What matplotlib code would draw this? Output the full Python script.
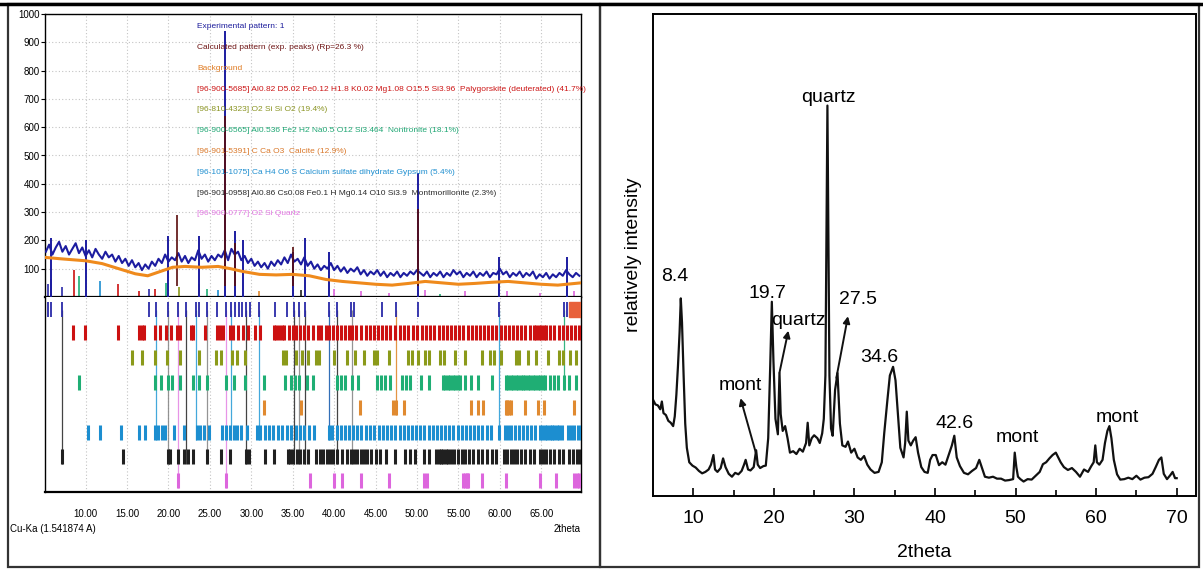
import numpy as np
import matplotlib.pyplot as plt
from matplotlib.patches import Rectangle
from matplotlib.lines import Line2D

# ---------------- left panel: phase identification ----------------
exp_start = 5.2
exp_step = 0.4
exp_counts = [160, 185, 150, 175, 195, 160, 180, 150, 170, 190, 155, 175, 145, 165, 140, 170,
              150, 135, 160, 140, 150, 125, 145, 120, 135, 110, 130, 105, 120, 95, 115, 100,
              125, 110, 135, 120, 150, 125, 140, 130, 155, 125, 145, 120, 140, 130, 165, 135,
              150, 125, 145, 130, 150, 140, 165, 130, 170, 150, 160, 130, 145, 120, 135, 110,
              125, 105, 120, 100, 125, 110, 130, 115, 140, 120, 150, 125, 135, 115, 140, 110,
              125, 100, 115, 95, 110, 100, 120, 95, 110, 90, 105, 85, 100, 90, 105, 80,
              95, 75, 90, 80, 95, 75, 90, 70, 85, 75, 90, 70, 85, 75, 90, 80,
              95, 85, 75, 90, 70, 85, 75, 90, 70, 85, 75, 95, 80, 90, 70, 85,
              75, 90, 70, 85, 75, 90, 70, 85, 80, 100, 80, 90, 70, 85, 75, 90,
              70, 85, 75, 90, 65, 80, 70, 85, 65, 80, 70, 85, 75, 95, 80, 70,
              85, 75]

bg_2theta = [5.1, 7, 10, 12, 14, 16, 17.5, 19, 20.5, 22, 24, 26, 27.5, 29, 31, 33, 35, 37,
             39, 41, 43, 45, 47, 49, 51, 53, 55, 57, 59, 61, 63, 65, 67, 69.8]
bg_counts = [140, 135, 128, 118, 100, 82, 75, 90, 105, 108, 105, 108, 100, 90, 80, 78, 80, 75,
             62, 55, 50, 45, 42, 48, 55, 50, 45, 48, 52, 55, 50, 45, 42, 50]

exp_peak_pos = [5.85, 10.0, 19.9, 23.7, 26.85, 28.0, 29.0, 35.05, 36.5, 39.4, 50.1, 59.9, 68.1]
exp_peak_h = [208, 200, 214, 214, 940, 232, 200, 160, 208, 160, 438, 143, 143]
calc_peak_pos = [21.05, 26.85, 28.0, 35.05, 50.1]
calc_peak_h = [290, 640, 190, 175, 310]

stick_pos = [5.5, 5.85, 7.2, 8.6, 9.2, 11.7, 13.9, 16.4, 17.7, 18.4, 19.7, 21.3, 23.7, 24.7,
             26.0, 30.9, 36.0, 40.0, 43.3, 46.6, 50.95, 52.8, 55.8, 60.9, 64.9, 69.0]
stick_h = [45, 65, 35, 95, 75, 55, 45, 20, 30, 30, 50, 35, 45, 30, 25, 20, 25, 30, 20, 15,
           25, 10, 20, 20, 15, 20]
stick_phase = [0, 0, 0, 1, 3, 5, 1, 1, 0, 1, 3, 2, 2, 3, 5, 4, 6, 7, 7, 7, 7, 3, 7, 7, 7, 7]

row_exp = [5.5, 5.85, 7.1, 17.7, 18.5, 19.9, 21.1, 22.1, 23.3, 23.7, 24.7, 25.9, 26.9, 27.5,
           28.0, 28.5, 28.9, 29.4, 29.9, 30.9, 32.9, 34.3, 35.1, 35.7, 36.5, 39.4, 40.3, 42.0,
           42.4, 45.8, 47.5, 50.1, 59.9, 67.7, 68.1]
row_paly = [8.5, 9.9, 13.9, 16.4, 16.8, 17.1, 18.4, 19.0, 19.7, 20.3, 21.0, 21.4, 22.7, 23.0,
            24.4, 25.9, 26.2, 26.6, 27.4, 27.8, 28.4, 29.0, 29.6, 30.4, 31.0, 32.7, 33.0, 33.3,
            33.7, 34.0, 34.5, 35.0, 35.4, 35.9, 36.4, 36.9, 37.5, 38.0, 38.4, 39.0, 39.4, 39.9,
            40.3, 40.8, 41.3, 41.8, 42.2, 42.7, 43.3, 43.8, 44.3, 44.8, 45.3, 45.8, 46.3, 46.8,
            47.3, 47.9, 48.4, 48.9, 49.5, 50.0, 50.6, 51.1, 51.6, 52.1, 52.6, 53.1, 53.6, 54.1,
            54.6, 55.1, 55.6, 56.1, 56.6, 57.1, 57.6, 58.1, 58.6, 59.1, 59.6, 60.1, 60.6, 61.1,
            61.6, 62.1, 62.6, 63.1, 63.6, 64.1, 64.4, 64.7, 65.0, 65.3, 65.6, 66.1, 66.6, 67.1,
            67.6, 68.1, 68.6, 69.1, 69.6]
row_sio2 = [15.6, 16.8, 18.4, 19.8, 21.4, 23.7, 25.8, 26.4, 27.7, 28.3, 29.3, 33.8, 34.2, 35.4,
            36.1, 36.8, 37.8, 38.2, 40.0, 41.6, 42.5, 43.6, 44.8, 45.2, 46.6, 48.9, 49.4, 50.1,
            51.0, 51.4, 52.8, 53.3, 54.6, 55.8, 57.9, 58.8, 59.3, 60.2, 61.9, 62.3, 63.4, 64.4,
            65.8, 67.2, 67.6, 68.5, 69.2]
row_nontr = [9.2, 18.4, 19.1, 20.0, 20.4, 21.4, 23.0, 23.7, 24.7, 27.0, 27.9, 29.3, 31.5, 34.1,
             34.8, 35.3, 35.7, 36.7, 37.4, 40.4, 40.8, 41.3, 42.2, 42.9, 45.2, 45.7, 46.1, 46.8,
             48.2, 48.7, 49.1, 50.5, 51.4, 53.1, 53.4, 53.7, 54.0, 54.3, 54.6, 54.9, 55.2, 55.8,
             56.5, 57.4, 59.1, 60.7, 61.0, 61.3, 61.6, 61.9, 62.2, 62.5, 62.8, 63.1, 63.4, 63.7,
             64.0, 64.3, 64.6, 64.9, 65.2, 65.5, 66.0, 66.5, 67.0, 67.7, 68.4, 69.2]
row_calcite = [31.5, 36.0, 43.1, 47.1, 47.5, 48.4, 56.5, 57.4, 58.0, 60.7, 60.9, 61.1, 61.3,
               63.0, 64.6, 65.3, 69.0]
row_gyps = [10.3, 11.7, 14.3, 16.4, 17.2, 18.4, 18.7, 19.2, 19.6, 20.7, 21.9, 23.4, 23.8, 24.3,
            24.9, 26.5, 26.9, 27.4, 27.9, 28.3, 28.8, 29.5, 30.7, 31.1, 31.6, 32.1, 32.6, 33.2,
            33.7, 34.3, 34.8, 35.4, 35.9, 36.4, 37.0, 37.6, 39.4, 39.8, 40.3, 40.8, 41.3, 41.8,
            42.3, 42.8, 43.3, 43.8, 44.3, 44.8, 45.4, 45.9, 46.4, 46.9, 47.4, 47.9, 48.4, 48.9,
            49.4, 49.9, 50.4, 50.9, 51.4, 51.9, 52.4, 52.9, 53.4, 53.9, 54.4, 54.9, 55.4, 55.9,
            56.4, 56.9, 57.4, 57.9, 58.4, 58.9, 59.9, 60.6, 61.0, 61.4, 61.8, 62.3, 62.8, 63.3,
            63.8, 64.3, 64.8, 65.1, 65.4, 65.7, 66.0, 66.3, 66.6, 66.9, 67.2, 67.5, 68.2, 68.6,
            69.0, 69.4, 69.8]
row_mont = [7.2, 14.5, 20.0, 20.2, 21.2, 21.9, 22.4, 23.0, 24.6, 26.4, 27.4, 29.4, 29.7, 31.6,
            32.8, 34.4, 34.7, 35.0, 35.5, 35.9, 36.4, 36.9, 37.8, 38.3, 38.7, 39.1, 39.5, 39.9,
            40.3, 41.0, 41.5, 42.0, 42.4, 42.8, 43.2, 43.6, 44.0, 44.4, 45.0, 45.5, 46.3, 47.4,
            48.6, 49.1, 49.8, 50.9, 51.4, 52.3, 52.6, 52.9, 53.2, 53.5, 53.8, 54.1, 54.5, 55.0,
            55.4, 55.8, 56.3, 56.8, 57.4, 57.9, 58.5, 59.0, 59.6, 60.5, 60.9, 61.3, 61.7, 62.1,
            62.6, 63.1, 63.6, 64.1, 64.8, 65.2, 65.6, 66.1, 66.6, 67.1, 67.6, 68.3, 68.8, 69.3,
            69.7]
row_quartz = [21.2, 26.9, 37.1, 40.0, 40.9, 43.3, 46.6, 50.9, 51.2, 55.6, 55.8, 56.0, 56.2,
              57.9, 60.7, 64.9, 66.8, 69.0, 69.3, 69.6]
exp_block = (68.4, 69.8)

link_pos = [7.1, 18.5, 19.9, 21.1, 22.1, 23.3, 24.7, 26.9, 27.5, 29.4, 30.9, 35.1, 35.7, 36.5,
            39.4, 40.3, 42.2, 47.5, 59.9, 67.7]
link_row = [6, 5, 6, 7, 6, 5, 6, 7, 5, 6, 5, 6, 6, 6, 5, 6, 6, 4, 5, 3]

legend_lines = [
    "Experimental pattern: 1",
    "Calculated pattern (exp. peaks) (Rp=26.3 %)",
    "Background",
    "[96-900-5685] Al0.82 D5.02 Fe0.12 H1.8 K0.02 Mg1.08 O15.5 Si3.96  Palygorskite (deuterated) (41.7%)",
    "[96-810-4323] O2 Si Si O2 (19.4%)",
    "[96-900-6565] Al0.536 Fe2 H2 Na0.5 O12 Si3.464  Nontronite (18.1%)",
    "[96-901-5391] C Ca O3  Calcite (12.9%)",
    "[96-101-1075] Ca H4 O6 S Calcium sulfate dihydrate Gypsum (5.4%)",
    "[96-901-0958] Al0.86 Cs0.08 Fe0.1 H Mg0.14 O10 Si3.9  Montmorillonite (2.3%)",
    "[96-900-0777] O2 Si Quartz",
]
legend_colors = ['#1c1c9c', '#6e1414', '#e07b22', '#cc1616', '#8a9422', '#1fa774',
                 '#d9782a', '#1f8fd0', '#2a2a2a', '#e27ae2']

# row colours: exp, palygorskite, SiO2, nontronite, calcite, gypsum, montmorillonite, quartz
row_colors = ['#2a2aa8', '#cc1111', '#8b9a1a', '#1fae74', '#e08a30', '#1c8ed0', '#202020', '#dd66dd']
link_colors = ['#303030', '#2f9fd8', '#888888', '#e58ae5', '#303030', '#2f9fd8', '#888888',
               '#e58ae5', '#2f9fd8', '#303030', '#2f9fd8', '#303030', '#888888', '#303030',
               '#1c5fb0', '#303030', '#888888', '#e08a30', '#2f9fd8', '#1fae74']

# ---------------- right panel: XRD pattern ----------------
xrd_2theta = [5.0, 5.3, 5.6, 5.9, 6.1, 6.3, 6.6, 6.9, 7.2, 7.5, 7.7, 7.9, 8.1, 8.3, 8.45, 8.6,
              8.8, 9.0, 9.2, 9.5, 9.9, 10.3, 10.7, 11.1, 11.5, 11.9, 12.2, 12.5, 12.7, 13.0,
              13.4, 13.7, 14.0, 14.4, 14.8, 15.2, 15.6, 16.0, 16.3, 16.5, 16.8, 17.1, 17.5,
              17.8, 18.0, 18.3, 18.7, 19.0, 19.3, 19.55, 19.75, 19.95, 20.2, 20.5, 20.7, 20.85,
              21.1, 21.4, 21.7, 22.0, 22.4, 22.8, 23.2, 23.6, 24.0, 24.2, 24.4, 24.7, 25.0,
              25.4, 25.7, 26.0, 26.2, 26.4, 26.65, 26.9, 27.1, 27.3, 27.6, 27.9, 28.2, 28.5,
              28.9, 29.2, 29.6, 30.0, 30.4, 30.8, 31.2, 31.6, 32.0, 32.5, 33.0, 33.4, 33.7,
              34.1, 34.4, 34.8, 35.1, 35.4, 35.7, 36.1, 36.3, 36.5, 36.7, 37.0, 37.3, 37.6,
              37.9, 38.3, 38.7, 39.1, 39.4, 39.7, 40.1, 40.5, 40.9, 41.3, 41.8, 42.1, 42.4,
              42.7, 43.1, 43.6, 44.1, 44.6, 45.1, 45.5, 45.8, 46.2, 46.7, 47.2, 47.7, 48.2,
              48.7, 49.2, 49.7, 49.9, 50.1, 50.3, 50.6, 51.0, 51.5, 52.0, 52.5, 53.0, 53.4,
              53.8, 54.2, 54.6, 55.0, 55.3, 55.6, 56.0, 56.5, 57.0, 57.5, 58.0, 58.5, 59.0,
              59.4, 59.7, 59.9, 60.1, 60.4, 60.8, 61.1, 61.4, 61.65, 61.9, 62.2, 62.6, 63.0,
              63.5, 64.0, 64.5, 65.0, 65.5, 66.0, 66.5, 67.0, 67.4, 67.8, 68.1, 68.4, 68.8,
              69.2, 69.5, 69.8, 70.0]
xrd_int = [20.0, 19.0, 18.8, 18.0, 19.6, 17.2, 16.8, 15.6, 15.2, 14.5, 16.5, 21.0, 27.0, 34.0,
           41.0, 36.0, 25.0, 15.0, 10.0, 7.0, 6.3, 5.9, 5.2, 4.7, 5.0, 5.5, 6.5, 8.5, 5.5, 5.0,
           5.8, 7.8, 6.0, 4.6, 4.0, 4.8, 4.5, 5.2, 6.5, 7.5, 5.5, 5.3, 6.0, 9.5, 6.5, 5.8, 6.2,
           6.3, 12.0, 27.0, 40.3, 28.0, 16.0, 12.8, 25.5, 17.0, 13.5, 14.5, 12.0, 9.0, 9.3,
           8.7, 9.8, 9.2, 11.0, 15.2, 10.5, 12.0, 12.6, 12.0, 11.0, 13.0, 16.0, 25.0, 81.0,
           25.0, 14.0, 12.5, 22.0, 25.5, 15.0, 10.5, 10.2, 11.3, 9.0, 9.8, 8.0, 7.5, 8.3, 6.5,
           5.5, 4.8, 5.0, 7.0, 13.0, 20.0, 25.0, 26.8, 24.0, 17.0, 10.0, 8.0, 11.0, 17.5, 11.5,
           10.5, 11.5, 12.2, 9.0, 6.0, 5.0, 4.8, 7.5, 8.5, 8.5, 6.4, 7.0, 6.5, 9.0, 10.5, 12.5,
           8.0, 6.2, 4.8, 4.5, 5.2, 5.8, 7.5, 6.0, 4.0, 3.8, 4.0, 3.6, 3.6, 3.2, 3.3, 3.5, 9.0,
           6.0, 4.0, 3.5, 3.0, 3.5, 3.4, 4.2, 5.0, 6.6, 7.0, 7.8, 8.5, 9.0, 8.0, 7.0, 6.0, 5.4,
           5.8, 5.0, 4.0, 5.5, 5.0, 6.2, 7.0, 10.5, 7.0, 6.5, 7.5, 11.0, 13.5, 14.5, 12.0, 7.5,
           4.5, 3.4, 3.5, 3.8, 3.5, 4.2, 3.4, 3.8, 3.9, 4.6, 6.0, 7.5, 8.0, 4.6, 3.5, 4.3, 5.0,
           3.7, 3.7]

peak_labels = ["8.4", "19.7", "quartz", "34.6", "42.6", "mont", "mont"]
peak_label_x = [7.76, 19.2, 26.8, 33.1, 42.4, 50.2, 62.7]
peak_label_y = [45.6, 42.0, 82.7, 28.8, 15.1, 12.1, 16.2]

arrow_labels = ["mont", "quartz", "27.5"]
arrow_tail = [(17.76, 9.0), (20.7, 25.6), (27.76, 24.5)]
arrow_head = [(15.86, 20.3), (21.8, 34.3), (29.2, 37.3)]
arrow_text = [(15.86, 23.0), (23.0, 36.5), (30.5, 40.7)]

# ---------------- figure ----------------
W, H = 1203, 569
fig = plt.figure(figsize=(W / 100, H / 100), dpi=100)
narrow = ['Liberation Sans Narrow', 'Liberation Sans', 'DejaVu Sans']


def px_box(x0, y0, x1, y1):
    return [x0 / W, 1 - y1 / H, (x1 - x0) / W, (y1 - y0) / H]


ax1 = fig.add_axes(px_box(45, 14, 581, 297))
ax2 = fig.add_axes(px_box(45, 297, 581, 492))
ax3 = fig.add_axes(px_box(653, 14, 1196, 496))

grid_ticks = np.arange(10, 66, 5)
dot = (0, (1, 2))

# top panel
ax1.set_xlim(5.1, 69.8)
ax1.set_ylim(0, 1000)
ax1.set_xticks(grid_ticks)
ax1.set_yticks(np.arange(100, 1001, 100))
ax1.grid(True, color='#c4c4c4', linestyle=dot, linewidth=0.8)
ax1.tick_params(axis='x', length=0, labelbottom=False)
ax1.tick_params(axis='y', length=3, width=0.8, labelsize=7, pad=1)
for lab in ax1.get_yticklabels():
    lab.set_family(narrow)
ax1.vlines(stick_pos, 0, stick_h, colors=[row_colors[p] for p in stick_phase], linewidth=1.2, zorder=2)
exp_x = exp_start + exp_step * np.arange(len(exp_counts))
ax1.plot(exp_x, exp_counts, color='#1c1ca0', linewidth=1.5, zorder=3)
ax1.vlines(exp_peak_pos, 0, exp_peak_h, colors='#1c1ca0', linewidth=1.4, zorder=3)
ax1.vlines(calc_peak_pos, 40, calc_peak_h, colors='#5a0c0c', linewidth=1.2, zorder=4)
ax1.plot(bg_2theta, bg_counts, color='#ef8a1c', linewidth=2.2, zorder=5)
for i, (txt, col) in enumerate(zip(legend_lines, legend_colors)):
    ax1.text(0.284, 0.955 - i * 0.0735, txt, color=col, fontsize=6, family=narrow,
             transform=ax1.transAxes, va='center', ha='left', zorder=6)
for sp in ax1.spines.values():
    sp.set_linewidth(1.0)
ax1.spines['bottom'].set_linewidth(1.6)

# lower panel: phase reference ticks
rows = [row_exp, row_paly, row_sio2, row_nontr, row_calcite, row_gyps, row_mont, row_quartz]
row_centers = [12.5, 35.5, 60.5, 85.5, 110.5, 135.5, 159.5, 183.5]
half = 7.5
ax2.set_xlim(5.1, 69.8)
ax2.set_ylim(195, 0)
ax2.set_yticks([])
ax2.set_xticks(grid_ticks)
ax2.set_xticklabels(['%.2f' % t for t in grid_ticks], family=narrow, fontsize=7)
ax2.tick_params(axis='x', length=0, pad=12)
ax2.grid(True, axis='x', color='#c4c4c4', linestyle=dot, linewidth=0.8)
for pos, r, col in zip(link_pos, link_row, link_colors):
    ax2.vlines(pos, row_centers[0], row_centers[r] + half, colors=col, linewidth=0.9, alpha=0.9, zorder=2)
for r, (pos, col) in enumerate(zip(rows, row_colors)):
    ax2.vlines(pos, row_centers[r] - half, row_centers[r] + half, colors=col,
               linewidth=2.2 if r else 1.3, zorder=3)
ax2.add_patch(Rectangle((exp_block[0], row_centers[0] - half), exp_block[1] - exp_block[0],
                        2 * half, color='#e8603a', zorder=3))
for sp in ax2.spines.values():
    sp.set_linewidth(1.0)
ax2.spines['bottom'].set_linewidth(1.6)
ax2.spines['top'].set_visible(False)

fig.text(10 / W, 1 - 529 / H, 'Cu-Ka (1.541874 A)', fontsize=7, family=narrow, va='center', ha='left')
fig.text(581 / W, 1 - 529 / H, '2theta', fontsize=7, family=narrow, va='center', ha='right')

# right panel
sans = ['Liberation Sans', 'DejaVu Sans']
ax3.plot(xrd_2theta, xrd_int, color='#111111', linewidth=1.6)
ax3.set_xlim(5, 72.4)
ax3.set_ylim(0, 100)
ax3.set_yticks([])
ax3.set_xticks(np.arange(10, 71, 10))
ax3.set_xticks(np.arange(15, 70, 10), minor=True)
ax3.tick_params(axis='x', which='major', direction='in', length=6, width=1.2, labelsize=14, pad=10)
ax3.tick_params(axis='x', which='minor', direction='in', length=4, width=1.2)
for lab in ax3.get_xticklabels():
    lab.set_family(sans)
ax3.set_xlabel('2theta', fontsize=14, family=sans, labelpad=12)
ax3.set_ylabel('relatively intensity', fontsize=14, family=sans, labelpad=8)
for sp in ax3.spines.values():
    sp.set_linewidth(1.4)
for txt, x, y in zip(peak_labels, peak_label_x, peak_label_y):
    ax3.text(x, y, txt, fontsize=14, family=sans, ha='center', va='center')
for txt, tail, head, tpos in zip(arrow_labels, arrow_tail, arrow_head, arrow_text):
    ax3.annotate('', xy=head, xytext=tail,
                 arrowprops=dict(arrowstyle='-|>', color='#111111', lw=1.4, mutation_scale=10,
                                 shrinkA=0, shrinkB=0))
    ax3.text(tpos[0], tpos[1], txt, fontsize=14, family=sans, ha='center', va='center')

# outer frames of the composite picture
fig.add_artist(Rectangle((8 / W, 1 - 567 / H), 592 / W, 563 / H, transform=fig.transFigure,
                         fill=False, edgecolor='#333333', linewidth=1.6))
fig.add_artist(Rectangle((600 / W, 1 - 567 / H), 599 / W, 563 / H, transform=fig.transFigure,
                         fill=False, edgecolor='#333333', linewidth=1.6))
fig.add_artist(Line2D([0, 1], [1 - 4 / H, 1 - 4 / H], transform=fig.transFigure,
                      color='black', linewidth=2.5))

fig.savefig('out.png', dpi=100)
